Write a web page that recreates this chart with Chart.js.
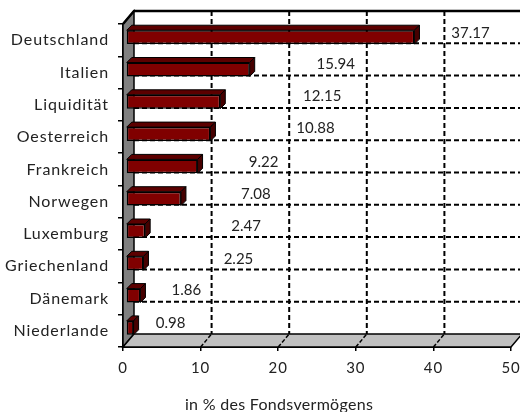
<!DOCTYPE html>
<html>
<head>
<meta charset="utf-8">
<title>Fondsvermögen</title>
<script src="https://cdn.jsdelivr.net/npm/chart.js@4"></script>
<style>
  html, body { margin: 0; padding: 0; background: #fff; }
  canvas { display: block; }
</style>
</head>
<body>
<canvas id="chart" width="520" height="412"></canvas>
<script>
const categories = ['Deutschland', 'Italien', 'Liquidität', 'Oesterreich', 'Frankreich', 'Norwegen', 'Luxemburg', 'Griechenland', 'Dänemark', 'Niederlande'];
const shares = [37.17, 15.94, 12.15, 10.88, 9.22, 7.08, 2.47, 2.25, 1.86, 0.98];
const valueTicks = [0, 10, 20, 30, 40, 50];
const axisTitle = 'in % des Fondsvermögens';

// the value labels were placed by hand in the original, so each has its own shift
const labelShiftX = [56, 86, 102, 105, 66, 75, 101, 95, 46, 37];
const labelShiftY = [-7, -8, -9, -9, -7, -7, -8, -7, -8, -8];

const FONT = '"Lato", sans-serif';
const DEPTH_X = 11, DEPTH_Y = 13;   // depth of the back wall
const BAR_SHIFT = 3, BAR_DEPTH = 5; // bars stand in the middle of the floor

function poly(ctx, pts, fill) {
  ctx.beginPath();
  pts.forEach((p, i) => i ? ctx.lineTo(p[0], p[1]) : ctx.moveTo(p[0], p[1]));
  ctx.closePath();
  if (fill) { ctx.fillStyle = fill; ctx.fill(); }
  ctx.stroke();
}

const frame3d = {
  id: 'frame3d',
  beforeDraw(chart) {
    // Lato is narrower than the original's font, the tick labels get some air
    chart.ctx.letterSpacing = '0.9px';
  },
  beforeDatasetsDraw(chart) {
    const { ctx, chartArea: a, scales: { x, y } } = chart;
    const bl = a.left + DEPTH_X, bt = a.top - DEPTH_Y, bb = a.bottom - DEPTH_Y, br = a.right + DEPTH_X;
    ctx.save();
    ctx.strokeStyle = '#000';
    ctx.lineWidth = 1.5;
    poly(ctx, [[a.left, a.top], [bl, bt], [bl, bb], [a.left, a.bottom]], '#808080');
    poly(ctx, [[a.left, a.bottom], [bl, bb], [br, bb], [a.right, a.bottom]], '#c0c0c0');

    ctx.lineWidth = 2;
    ctx.setLineDash([5, 3]);
    ctx.beginPath();
    categories.forEach((c, i) => {
      if (i === categories.length - 1) return;
      const py = y.getPixelForValue(i) + (y.getPixelForValue(1) - y.getPixelForValue(0)) / 2 - DEPTH_Y;
      ctx.moveTo(bl, py);
      ctx.lineTo(br, py);
    });
    valueTicks.slice(1, -1).forEach(v => {
      const px = x.getPixelForValue(v) + DEPTH_X;
      ctx.moveTo(px, bt);
      ctx.lineTo(px, bb);
    });
    ctx.stroke();

    // floor part of the grid lines
    ctx.setLineDash([4, 2]);
    ctx.lineWidth = 1.5;
    ctx.beginPath();
    valueTicks.slice(1, -1).forEach(v => {
      const px = x.getPixelForValue(v);
      ctx.moveTo(px, a.bottom);
      ctx.lineTo(px + DEPTH_X, bb);
    });
    ctx.stroke();

    ctx.setLineDash([]);
    ctx.lineWidth = 2.5;
    ctx.beginPath();
    ctx.moveTo(a.left, a.top);
    ctx.lineTo(bl, bt);
    ctx.lineTo(br, bt);
    ctx.stroke();
    ctx.restore();
  },
  beforeDatasetDraw(chart, args) {
    const { ctx } = chart;
    ctx.save();
    ctx.translate(BAR_SHIFT, -BAR_SHIFT);
    ctx.strokeStyle = '#000';
    ctx.lineWidth = 1;
    chart.getDatasetMeta(args.index).data.forEach(bar => {
      const t = bar.y - bar.height / 2, b = bar.y + bar.height / 2;
      poly(ctx, [[bar.base, t], [bar.base + BAR_DEPTH, t - BAR_DEPTH], [bar.x + BAR_DEPTH, t - BAR_DEPTH], [bar.x, t]], '#5c0000');
      poly(ctx, [[bar.x, t], [bar.x + BAR_DEPTH, t - BAR_DEPTH], [bar.x + BAR_DEPTH, b - BAR_DEPTH], [bar.x, b]], '#460000');
    });
  },
  afterDatasetDraw(chart) {
    chart.ctx.restore();
  },
  afterDatasetsDraw(chart) {
    const { ctx, scales: { x, y } } = chart;
    ctx.save();
    ctx.fillStyle = '#222';
    ctx.font = '15px ' + FONT;
    ctx.letterSpacing = '0px';
    ctx.textAlign = 'center';
    ctx.textBaseline = 'middle';
    shares.forEach((v, i) => {
      ctx.fillText(v.toFixed(2), x.getPixelForValue(v) + BAR_SHIFT + labelShiftX[i], y.getPixelForValue(i) + labelShiftY[i]);
    });
    ctx.font = '16px ' + FONT;
    ctx.letterSpacing = '0.3px';
    ctx.fillText(axisTitle, 279, 405);
    ctx.restore();
  }
};

new Chart(document.getElementById('chart'), {
  type: 'bar',
  data: {
    labels: categories,
    datasets: [{
      data: shares,
      backgroundColor: '#800000',
      borderColor: '#000',
      borderWidth: 1.5,
      borderSkipped: false,
      categoryPercentage: 1,
      barPercentage: 0.43
    }]
  },
  plugins: [frame3d],
  options: {
    indexAxis: 'y',
    responsive: false,
    devicePixelRatio: 1,
    animation: false,
    layout: { padding: { top: 24, right: 9, left: 0, bottom: 0 } },
    plugins: { legend: { display: false }, tooltip: { enabled: false } },
    scales: {
      x: {
        min: 0,
        max: 50,
        afterFit(s) {
          s.height = 65;
          s.paddingLeft = 0;
          s.paddingRight = 0;
        },
        ticks: {
          stepSize: 10,
          maxRotation: 0,
          color: '#222',
          padding: 8,
          font: { family: FONT, size: 15 }
        },
        grid: { drawOnChartArea: false, color: '#000', tickLength: 4, lineWidth: 1.5 },
        border: { color: '#000', width: 2 }
      },
      y: {
        afterFit(s) { s.width = 123; },
        ticks: {
          color: '#222',
          padding: 9,
          autoSkip: false,
          font: { family: FONT, size: 16 }
        },
        grid: { drawOnChartArea: false, color: '#000', tickLength: 5, lineWidth: 1.5 },
        border: { color: '#000', width: 2 }
      }
    }
  }
});
</script>
</body>
</html>
